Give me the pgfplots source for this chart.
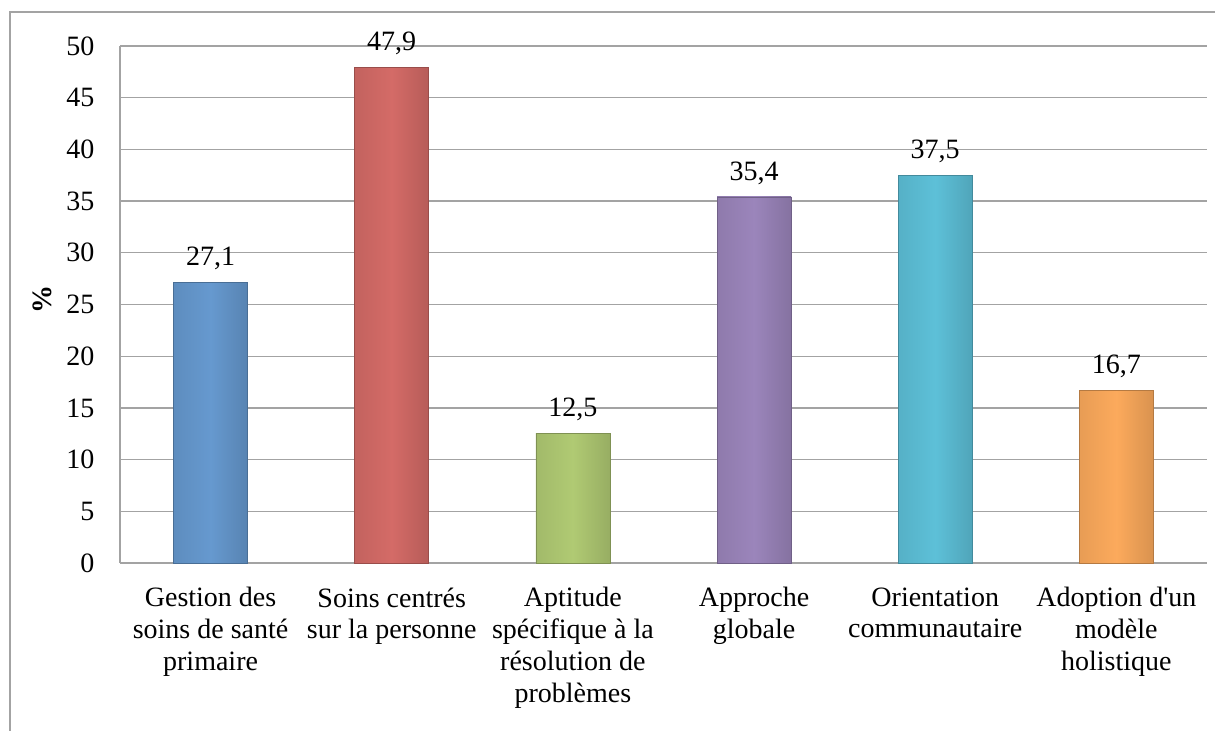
\documentclass[border=0pt]{standalone}
\usepackage{pgfplots}
\pgfplotsset{compat=1.18}
\usepackage{fontspec}
\setmainfont{Liberation Serif}

\definecolor{gridgray}{HTML}{A3A3A3}
\definecolor{cBlue}{HTML}{6699CF}
\definecolor{cRed}{HTML}{D46B67}
\definecolor{cGreen}{HTML}{B0CA73}
\definecolor{cPurple}{HTML}{9B85BB}
\definecolor{cCyan}{HTML}{5DC0D8}
\definecolor{cOrange}{HTML}{FCAA5C}

% soft edge shading instead of the bevel
\tikzset{bev/.style={left color=#1!92!black, right color=#1!86!black, middle color=#1, draw=#1!72!black, line width=0.6bp}}

\begin{document}
\begin{tikzpicture}
  \fontsize{28bp}{31.7bp}\selectfont
  \useasboundingbox (0,0) rectangle (1215bp,731bp);
  % chart frame (cropped)
  \draw[gridgray,line width=2bp] (10bp,0) -- (10bp,719bp) -- (1215bp,719bp);

  \begin{axis}[
    at={(120bp,168bp)}, anchor=south west,
    width=1087bp, height=517bp,
    scale only axis,
    xmin=-0.5, xmax=5.5,
    ymin=0, ymax=50,
    ytick={0,5,...,50},
    xtick={0,...,5},
    xticklabels={
      {Gestion des\\soins de santé\\primaire},
      {Soins centrés\\sur la personne},
      {Aptitude\\spécifique à la\\résolution de\\problèmes},
      {Approche\\globale},
      {Orientation\\communautaire},
      {Adoption d\textquotesingle un\\modèle\\holistique}},
    major tick length=0pt,
    axis lines*=left,
    axis line style={gridgray,line width=1.3bp},
    ymajorgrids,
    grid style={gridgray,line width=1.3bp},
    /pgf/number format/assume math mode=true,
    tick label style={font=\fontsize{28bp}{31.7bp}\selectfont, text=black},
    yticklabel style={xshift=-16bp},
    xticklabel style={align=center, yshift=-15bp},
    ylabel={\textbf{\%}},
    ylabel style={font=\fontsize{28bp}{31.7bp}\selectfont, at={(axis description cs:-0.071,0.51)}, anchor=center},
    ybar, bar width=74bp, bar shift=0pt,
    nodes near coords,
    nodes near coords style={font=\fontsize{28bp}{31.7bp}\selectfont, text=black, yshift=3bp,
      /pgf/number format/.cd, fixed, precision=1, fixed zerofill, use comma, assume math mode=true},
    clip=false,
  ]
    \addplot[bev=cBlue]   coordinates {(0,27.1)};
    \addplot[bev=cRed]    coordinates {(1,47.9)};
    \addplot[bev=cGreen]  coordinates {(2,12.5)};
    \addplot[bev=cPurple] coordinates {(3,35.4)};
    \addplot[bev=cCyan]   coordinates {(4,37.5)};
    \addplot[bev=cOrange] coordinates {(5,16.7)};
  \end{axis}
\end{tikzpicture}
\end{document}
